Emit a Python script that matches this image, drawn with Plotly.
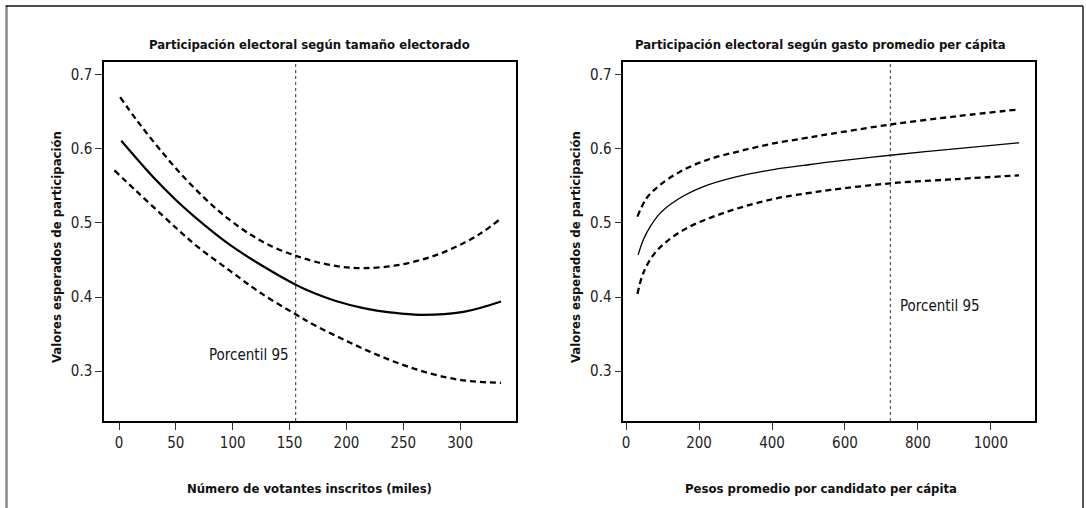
import plotly.graph_objects as go

# ---------------- Left panel: electorate size ----------------
size_fit_x = [2, 30, 50, 66, 97, 122, 155, 172, 190, 215, 240, 265, 303, 336]
size_fit_y = [0.611, 0.562, 0.531, 0.509, 0.471, 0.446, 0.417, 0.405, 0.395, 0.385, 0.379, 0.376, 0.380, 0.394]

size_up_x = [1, 16, 34, 54, 75, 95, 116, 135, 155, 172, 195, 216, 245, 274, 298, 318, 335]
size_up_y = [0.670, 0.638, 0.603, 0.567, 0.534, 0.507, 0.484, 0.468, 0.456, 0.448, 0.441, 0.439, 0.443, 0.454, 0.469, 0.486, 0.505]

size_lo_x = [-4, 16, 37, 54, 69, 98, 125, 155, 172, 201, 230, 260, 289, 312, 336]
size_lo_y = [0.571, 0.542, 0.512, 0.488, 0.468, 0.435, 0.405, 0.377, 0.362, 0.340, 0.320, 0.303, 0.291, 0.286, 0.284]

size_p95 = 155.4

# ---------------- Right panel: spending per capita ----------------
gasto_fit_x = [33, 47, 66, 93, 139, 212, 304, 395, 486, 560, 724, 908, 1077]
gasto_fit_y = [0.457, 0.477, 0.495, 0.513, 0.531, 0.549, 0.5625, 0.5715, 0.5777, 0.5825, 0.5915, 0.6005, 0.6084]

gasto_up_x = [31, 56, 93, 148, 221, 304, 395, 486, 560, 724, 908, 1077]
gasto_up_y = [0.5086, 0.5334, 0.5513, 0.5693, 0.585, 0.5962, 0.6066, 0.6143, 0.6203, 0.6330, 0.6443, 0.6534]

gasto_lo_x = [31, 47, 75, 111, 166, 239, 322, 413, 496, 560, 724, 908, 1077]
gasto_lo_y = [0.404, 0.4323, 0.457, 0.4749, 0.493, 0.5086, 0.5221, 0.5334, 0.5402, 0.5446, 0.5536, 0.5594, 0.5644]

gasto_p95 = 724.4

size_ticks = [0, 50, 100, 150, 200, 250, 300]
gasto_ticks = [0, 200, 400, 600, 800, 1000]
y_ticks = [0.3, 0.4, 0.5, 0.6, 0.7]

title_left = "Participación electoral según tamaño electorado"
title_right = "Participación electoral según gasto promedio per cápita"
xlab_left = "Número de votantes inscritos (miles)"
xlab_right = "Pesos promedio por candidato per cápita"
ylab = "Valores esperados de participación"
p95_label = "Porcentil 95"

FONT = "Liberation Sans Narrow, Arial Narrow, DejaVu Sans Condensed, sans-serif"
W, H = 1086, 508
DASH = "6px,4px"

fig = go.Figure()

def add_line(x, y, xa, ya, dash=None, width=2.2):
    fig.add_trace(go.Scatter(
        x=x, y=y, xaxis=xa, yaxis=ya, mode="lines",
        line=dict(color="black", width=width, dash=dash, shape="spline", smoothing=1.0),
        showlegend=False, hoverinfo="skip"))

add_line(size_up_x, size_up_y, "x", "y", DASH, 2.3)
add_line(size_lo_x, size_lo_y, "x", "y", DASH, 2.3)
add_line(size_fit_x, size_fit_y, "x", "y", None, 2.2)

add_line(gasto_up_x, gasto_up_y, "x2", "y2", DASH, 2.3)
add_line(gasto_lo_x, gasto_lo_y, "x2", "y2", DASH, 2.3)
add_line(gasto_fit_x, gasto_fit_y, "x2", "y2", None, 1.3)

ax_common = dict(showgrid=False, zeroline=False, showline=True, mirror=True,
                 linecolor="black", linewidth=1.5, ticks="outside", ticklen=7,
                 tickwidth=1, tickcolor="#333",
                 tickfont=dict(family=FONT, size=15, color="#222"))

y0 = (H - 421) / H
y1 = (H - 62) / H
yrange = [0.2325, 0.7175]

fig.update_layout(
    width=W, height=H, margin=dict(l=0, r=0, t=0, b=0),
    paper_bgcolor="white", plot_bgcolor="white",
    xaxis=dict(domain=[104 / W, 516.3 / W], range=[-13.2, 349.4], anchor="y",
               tickvals=size_ticks, ticktext=[str(v) for v in size_ticks], **ax_common),
    yaxis=dict(domain=[y0, y1], range=yrange, anchor="x",
               tickvals=y_ticks, ticktext=[f"{v:.1f}" for v in y_ticks], **ax_common),
    xaxis2=dict(domain=[623.3 / W, 1034.5 / W], range=[-7.7, 1119.7], anchor="y2",
                tickvals=gasto_ticks, ticktext=[str(v) for v in gasto_ticks], **ax_common),
    yaxis2=dict(domain=[y0, y1], range=yrange, anchor="x2",
                tickvals=y_ticks, ticktext=[f"{v:.1f}" for v in y_ticks], **ax_common),
)

# Percentile-95 dotted lines
for xr, yr, xv in [("x", "y domain", size_p95), ("x2", "y2 domain", gasto_p95)]:
    fig.add_shape(type="line", xref=xr, yref=yr, x0=xv, x1=xv, y0=0, y1=1,
                  line=dict(color="#333", width=1, dash="dot"))

# Outer frame
fig.add_shape(type="line", xref="paper", yref="paper", x0=6.5 / W, x1=6.5 / W,
              y0=0, y1=(H - 5) / H, line=dict(color="#888", width=2.5))
fig.add_shape(type="line", xref="paper", yref="paper", x0=6 / W, x1=1083 / W,
              y0=(H - 6) / H, y1=(H - 6) / H, line=dict(color="#111", width=1.5))
fig.add_shape(type="line", xref="paper", yref="paper", x0=1083 / W, x1=1083 / W,
              y0=0, y1=(H - 6) / H, line=dict(color="#222", width=1.5))

def ann(text, x, y, size, bold=False, angle=0, xanchor="center", xref="paper", yref="paper"):
    fig.add_annotation(text=f"<b>{text}</b>" if bold else text, x=x, y=y,
                       xref=xref, yref=yref, showarrow=False, textangle=angle,
                       xanchor=xanchor, yanchor="middle",
                       font=dict(family=FONT, size=size, color="#111"))

ann(title_left, 309 / W, (H - 45) / H, 13, bold=True)
ann(title_right, 820 / W, (H - 45) / H, 13, bold=True)
ann(xlab_left, 309 / W, (H - 488) / H, 13, bold=True)
ann(xlab_right, 820.5 / W, (H - 488) / H, 13, bold=True)
ann(ylab, 56 / W, (H - 247) / H, 13, bold=True, angle=-90)
ann(ylab, (56 + 519) / W, (H - 247) / H, 13, bold=True, angle=-90)
ann(p95_label, 114.3, 0.321, 15, xref="x", yref="y")
ann(p95_label, 746, 0.3876, 15, xanchor="left", xref="x2", yref="y2")

fig.write_html("out.html", config={"displayModeBar": False},
               post_script="document.body.style.margin='0';")
